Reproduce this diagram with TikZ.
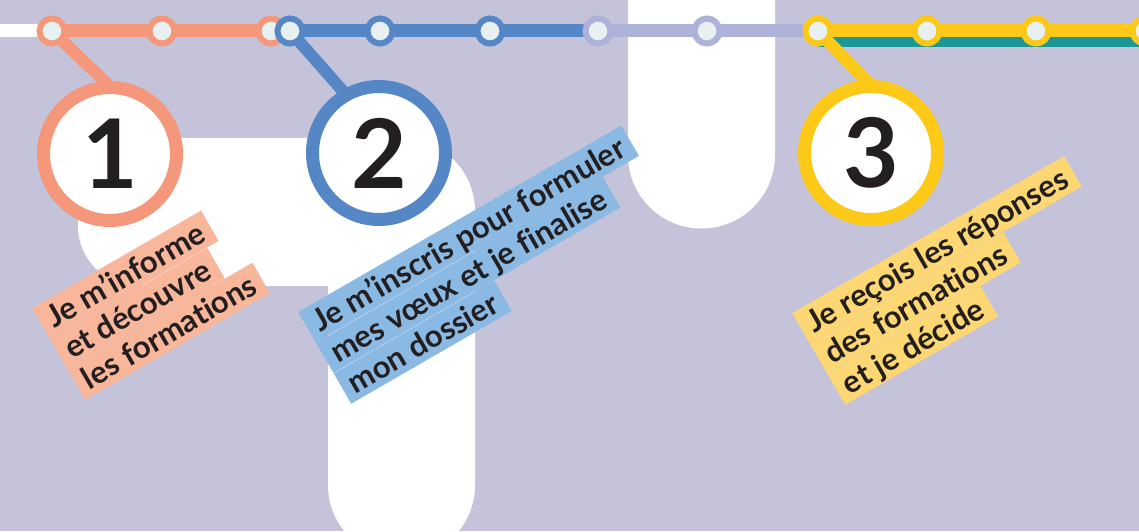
\documentclass[tikz,border=0pt]{standalone}
\usepackage{fontspec}
\setmainfont{Lato}[Ligatures=NoCommon]
\definecolor{bgLilac}{HTML}{C5C3D9}
\definecolor{lineOrange}{HTML}{F4977A}
\definecolor{lineBlue}{HTML}{5587C6}
\definecolor{lineLilac}{HTML}{AEB2D8}
\definecolor{lineYellow}{HTML}{FDC918}
\definecolor{lineTeal}{HTML}{1C9797}
\definecolor{boxOrange}{HTML}{F8B69B}
\definecolor{boxBlue}{HTML}{8AB9E4}
\definecolor{boxYellow}{HTML}{FDD773}
\definecolor{stopFill}{HTML}{E8F0F2}
\definecolor{inkDark}{HTML}{231F20}
\tikzset{
  railline/.style={line width=13pt},
  spur/.style={line width=12pt},
  station/.style={circle,draw=#1,line width=6pt,fill=stopFill,minimum size=25pt,inner sep=0pt},
  stepring/.style={circle,draw=#1,line width=13pt,fill=white,minimum size=133pt,inner sep=0pt,
    text=inkDark,font=\fontsize{96}{96}\selectfont\bfseries},
  stepbox/.style={fill=#1,anchor=north west,inner xsep=9pt,inner ysep=0pt,
    text height=29pt,text depth=6pt,text=inkDark,font=\fontsize{31}{31}\selectfont\bfseries},
}

\begin{document}
\begin{tikzpicture}[x=1pt,y=1pt]
\useasboundingbox (0,0) rectangle (1139,531);
\clip (0,0) rectangle (1139,531);
\fill[bgLilac] (0,0) rectangle (1139,531);
% white blocks behind the line
\fill[white] (78,393) -- (401.5,393) arc[start angle=90,end angle=0,radius=73.5]
  -- (475,46) arc[start angle=0,end angle=-180,radius=73.5] -- (328,245) -- (138,245)
  arc[start angle=270,end angle=180,radius=60] -- cycle;
\fill[white] (628,540) -- (628,376) arc[start angle=180,end angle=360,radius=73.5]
  -- (775,540) -- cycle;
% the line
\coordinate (west) at (0,500);
\coordinate (east) at (1150,500);
\coordinate (o1) at (52,500);
\coordinate (o2) at (162,500);
\coordinate (o3) at (271,500);
\coordinate (b1) at (290,500);
\coordinate (b2) at (380,500);
\coordinate (b3) at (490,500);
\coordinate (v1) at (598,500);
\coordinate (v2) at (707,500);
\coordinate (y1) at (818,500);
\coordinate (y2) at (927,500);
\coordinate (y3) at (1036,500);
\coordinate (y4) at (1145,500);
\coordinate (c1) at (110,377);
\coordinate (c2) at (379,378);
\coordinate (c3) at (871,378);
\draw[railline,white] (west) -- (o1);
\draw[railline,lineOrange] (o1) -- (b1);
\draw[railline,lineBlue] (b1) -- (v1);
\draw[railline,lineLilac] (v1) -- (y1);
\draw[railline,lineTeal] ([yshift=-9.5pt]y1) -- ([yshift=-9.5pt]east);
\draw[railline,lineYellow] (y1) -- (east);
% spurs down to the steps
\draw[spur,lineOrange] (o1) -- ([shift={(92:70)}]c1);
\draw[spur,lineBlue] (b1) -- ([shift={(120:70)}]c2);
\draw[spur,lineYellow] (y1) -- ([shift={(92:70)}]c3);
\foreach \s/\c in {o1/lineOrange,o2/lineOrange,o3/lineOrange,b1/lineBlue,b2/lineBlue,
  b3/lineBlue,v1/lineLilac,v2/lineLilac,y1/lineYellow,y2/lineYellow,y3/lineYellow,y4/lineYellow}
  \node[station=\c] (s\s) at (\s) {};
\node[stepring=lineOrange] (n1) at (c1) {1};
\node[stepring=lineBlue] (n2) at (c2) {2};
\node[stepring=lineYellow] (n3) at (c3) {3};
% captions
\begin{scope}[shift={(32,223)},rotate=30,transform shape]
\node[stepbox=boxOrange] (t1a) at (0,0) {Je m’informe};
\node[stepbox=boxOrange] (t1b) at (t1a.south west) {et découvre};
\node[stepbox=boxOrange] (t1c) at (t1b.south west) {les formations};
\end{scope}
\begin{scope}[shift={(298,219)},rotate=30,transform shape]
\node[stepbox=boxBlue] (t2a) at (0,0) {Je m’inscris pour formuler};
\node[stepbox=boxBlue] (t2b) at (t2a.south west) {mes vœux et je finalise};
\node[stepbox=boxBlue] (t2c) at (t2b.south west) {mon dossier};
\end{scope}
\begin{scope}[shift={(792,218)},rotate=30,transform shape]
\node[stepbox=boxYellow] (t3a) at (0,0) {Je reçois les réponses};
\node[stepbox=boxYellow] (t3b) at (t3a.south west) {des formations};
\node[stepbox=boxYellow] (t3c) at (t3b.south west) {et je décide};
\end{scope}
\end{tikzpicture}
\end{document}
